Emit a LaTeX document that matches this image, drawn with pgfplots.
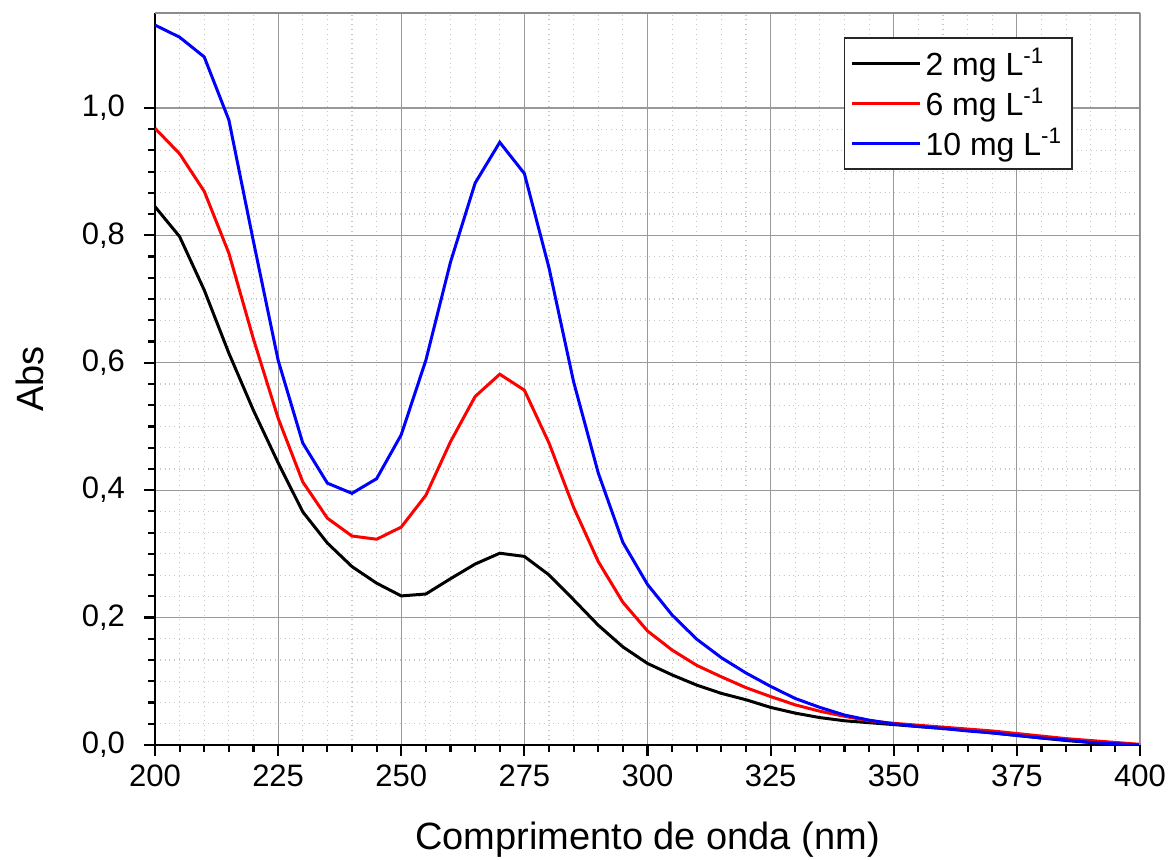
\documentclass[border=0pt]{standalone}
\usepackage{fontspec}
\setmainfont{Liberation Sans}
\usepackage{pgfplots}
\usepackage{pgfplotstable}
\pgfplotsset{compat=1.18}

\pgfplotstableread{
x y
200 0.845
205 0.798
210 0.714
215 0.615
220 0.525
225 0.443
230 0.366
235 0.317
240 0.280
245 0.254
250 0.234
255 0.237
260 0.261
265 0.284
270 0.301
275 0.296
280 0.267
285 0.228
290 0.188
295 0.154
300 0.128
305 0.110
310 0.094
315 0.081
320 0.071
325 0.059
330 0.050
335 0.043
340 0.038
345 0.035
350 0.032
355 0.029
360 0.026
365 0.023
370 0.019
375 0.015
380 0.011
385 0.007
390 0.004
395 0.001
400 0.000
}\dataA

\pgfplotstableread{
x y
200 0.968
205 0.928
210 0.869
215 0.772
220 0.637
225 0.513
230 0.413
235 0.356
240 0.328
245 0.323
250 0.342
255 0.392
260 0.476
265 0.547
270 0.582
275 0.557
280 0.474
285 0.373
290 0.288
295 0.224
300 0.179
305 0.149
310 0.125
315 0.107
320 0.090
325 0.076
330 0.063
335 0.053
340 0.045
345 0.038
350 0.034
355 0.031
360 0.028
365 0.025
370 0.022
375 0.018
380 0.014
385 0.010
390 0.007
395 0.004
400 0.001
}\dataB

\pgfplotstableread{
x y
200 1.130
205 1.111
210 1.080
215 0.981
220 0.790
225 0.604
230 0.474
235 0.411
240 0.395
245 0.418
250 0.487
255 0.604
260 0.758
265 0.882
270 0.946
275 0.897
280 0.749
285 0.570
290 0.427
295 0.318
300 0.252
305 0.204
310 0.166
315 0.137
320 0.113
325 0.092
330 0.073
335 0.059
340 0.047
345 0.039
350 0.033
355 0.029
360 0.026
365 0.022
370 0.019
375 0.015
380 0.011
385 0.008
390 0.004
395 0.002
400 0.000
}\dataC

\begin{document}
\begin{tikzpicture}
\path[use as bounding box] (-77.5pt,-57.5pt) rectangle (506.5pt,372.5pt);
\begin{axis}[
  at={(0,0)}, anchor=south west,
  width=492.5pt, height=366pt, scale only axis,
  xmin=200, xmax=400, ymin=0, ymax=1.149,
  xtick={200,225,250,275,300,325,350,375,400},
  ytick={0,0.2,0.4,0.6,0.8,1.0},
  minor x tick num=4, minor y tick num=5,
  grid=both,
  major grid style={draw=black!40, line width=0.6pt},
  minor grid style={draw=black!22, dotted, line width=0.6pt},
  axis x line*=bottom, axis y line*=left,
  axis line style={-, line width=1.2pt, black},
  tick align=outside,
  major tick length=5.5pt, minor tick length=3.5pt,
  every tick/.style={black, line width=1.1pt},
  /pgf/number format/assume math mode=true,
  yticklabel style={xshift=-6pt, /pgf/number format/.cd, use comma, fixed, fixed zerofill, precision=1},
  xticklabel style={yshift=-1pt, /pgf/number format/.cd, fixed, precision=0},
  tick label style={font=\fontsize{15.5}{18}\selectfont},
  every axis y label/.style={at={(axis description cs:-0.127,0.5)}, rotate=90, anchor=center},
  every axis x label/.style={at={(axis description cs:0.5,-0.130)}, anchor=center},
  label style={font=\fontsize{19}{22}\selectfont},
  xlabel={Comprimento de onda (nm)},
  ylabel={Abs},
  legend style={at={(axis description cs:0.932,0.967)}, anchor=north east,
    draw=black!85, line width=0.9pt, fill=white,
    font=\fontsize{16}{18}\selectfont,
    row sep=0.5pt, inner sep=3pt,
    cells={anchor=west}},
  legend image code/.code={\draw[#1, line width=1.5pt] (0pt,0pt) -- (34pt,0pt);},
]
\addplot[black, line width=1.5pt] table[x=x, y=y] {\dataA};
\addlegendentry{2 mg L\textsuperscript{-1}}
\addplot[red, line width=1.5pt] table[x=x, y=y] {\dataB};
\addlegendentry{6 mg L\textsuperscript{-1}}
\addplot[blue, line width=1.5pt] table[x=x, y=y] {\dataC};
\addlegendentry{10 mg L\textsuperscript{-1}}
\draw[black!45, line width=0.8pt] (rel axis cs:0,1) -- (rel axis cs:1,1) -- (rel axis cs:1,0);
\end{axis}
\end{tikzpicture}
\end{document}
